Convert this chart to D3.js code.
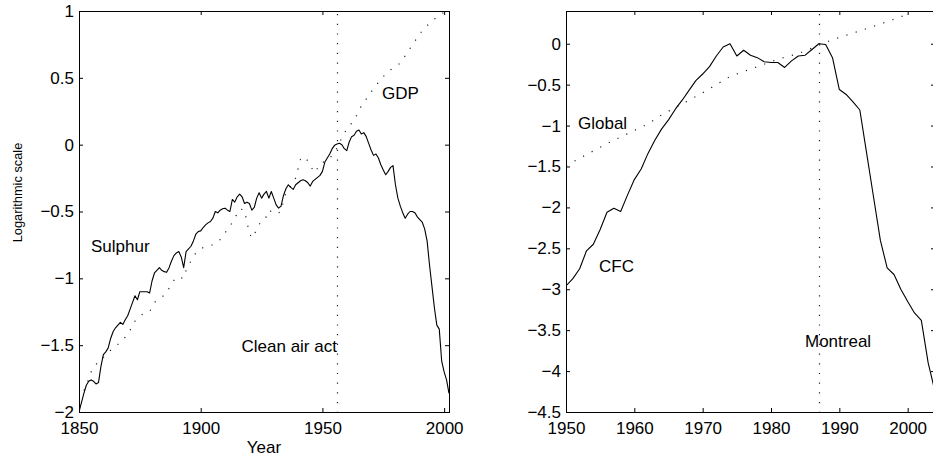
<!DOCTYPE html>
<html>
<head>
<meta charset="utf-8">
<script src="https://cdn.jsdelivr.net/npm/d3@7"></script>
<style>
  html, body { margin: 0; padding: 0; background: #fff; }
  svg { display: block; }
  text { font-family: "Liberation Sans", Arial, Helvetica, sans-serif; fill: #000; }
</style>
</head>
<body>
<svg id="chart" width="933" height="458"></svg>
<script>
// ---------- data ----------
const sulphurYears = d3.range(1850, 2003);
const sulphurValues = [
  -2.00,-1.93,-1.86,-1.80,-1.77,-1.76,-1.77,-1.79,-1.78,-1.66,
  -1.57,-1.55,-1.52,-1.45,-1.40,-1.37,-1.35,-1.33,-1.345,-1.31,
  -1.28,-1.23,-1.18,-1.13,-1.16,-1.10,-1.10,-1.10,-1.10,-1.11,
  -1.02,-0.96,-0.94,-0.92,-0.94,-0.95,-0.955,-0.92,-0.87,-0.83,
  -0.81,-0.80,-0.84,-0.92,-0.80,-0.78,-0.76,-0.72,-0.67,-0.65,
  -0.645,-0.62,-0.60,-0.585,-0.575,-0.55,-0.50,-0.51,-0.49,-0.48,
  -0.475,-0.49,-0.50,-0.41,-0.43,-0.39,-0.37,-0.39,-0.44,-0.43,
  -0.44,-0.49,-0.47,-0.40,-0.36,-0.40,-0.37,-0.35,-0.40,-0.35,
  -0.40,-0.45,-0.475,-0.46,-0.38,-0.33,-0.30,-0.32,-0.335,-0.30,
  -0.285,-0.27,-0.263,-0.27,-0.285,-0.31,-0.275,-0.26,-0.245,-0.23,
  -0.20,-0.13,-0.10,-0.07,-0.03,-0.005,0.005,0.01,0.00,-0.03,
  -0.045,0.02,0.06,0.07,0.10,0.11,0.08,0.09,0.06,0.01,
  -0.04,-0.08,-0.07,-0.10,-0.15,-0.19,-0.225,-0.20,-0.17,-0.157,
  -0.30,-0.40,-0.46,-0.51,-0.55,-0.52,-0.50,-0.50,-0.51,-0.54,
  -0.56,-0.58,-0.63,-0.72,-0.90,-1.06,-1.22,-1.35,-1.38,-1.62,
  -1.70,-1.76,-1.86
];

const gdpYears = [1850,1851,1853,1855,1856,1859,1864,1867,1870,1873,1876,1879,1881,1884,1886,1888,1890,1893,1894,1896,1898,1901,1904,1906,1908,1910,1912,1914,1916,1918,1919,1920,1921,1922,1924,1925,1927,1928,1931,1933,1934,1935,1937,1939,1940,1941,1943,1945,1947,1949,1952,1955,1958,1960,1963,1966,1971,1975,1978,1982,1986,1990,1993,1996,1999,2001];
const gdpValues = [-1.90,-1.88,-1.80,-1.70,-1.66,-1.61,-1.52,-1.48,-1.42,-1.32,-1.27,-1.25,-1.18,-1.14,-1.11,-1.04,-0.99,-1.00,-0.94,-0.87,-0.81,-0.77,-0.755,-0.74,-0.71,-0.66,-0.61,-0.55,-0.48,-0.49,-0.58,-0.66,-0.70,-0.67,-0.60,-0.56,-0.54,-0.49,-0.52,-0.50,-0.42,-0.36,-0.31,-0.25,-0.18,-0.11,-0.09,-0.16,-0.21,-0.14,-0.12,-0.06,0.05,0.12,0.18,0.29,0.42,0.51,0.56,0.61,0.72,0.83,0.89,0.94,0.98,1.00];

const cfcYears = d3.range(1950, 2005);
const cfcValues = [
  -2.96,-2.87,-2.75,-2.53,-2.45,-2.27,-2.06,-2.01,-2.05,-1.85,
  -1.66,-1.53,-1.34,-1.18,-1.04,-0.93,-0.80,-0.69,-0.57,-0.45,
  -0.37,-0.28,-0.15,-0.04,0.00,-0.15,-0.08,-0.14,-0.17,-0.22,
  -0.23,-0.23,-0.29,-0.21,-0.15,-0.14,-0.07,0.00,-0.01,-0.17,
  -0.56,-0.62,-0.71,-0.81,-1.34,-1.87,-2.40,-2.74,-2.82,-3.00,
  -3.15,-3.29,-3.38,-3.90,-4.25
];

const globalYears = [1950,1956,1962,1964,1970,1974,1977,1981,1984,1987,1989,1992,1996,2000];
const globalValues = [-1.49,-1.22,-0.98,-0.87,-0.60,-0.40,-0.31,-0.19,-0.12,-0.02,0.05,0.13,0.24,0.36];

const leftXTicks = [1850, 1900, 1950, 2000];
const leftYTicks = [-2, -1.5, -1, -0.5, 0, 0.5, 1];
const rightXTicks = [1950, 1960, 1970, 1980, 1990, 2000];
const rightYTicks = [-4.5, -4, -3.5, -3, -2.5, -2, -1.5, -1, -0.5, 0];

const cleanAirActYear = 1956;
const montrealYear = 1987;

// ---------- drawing ----------
const svg = d3.select("#chart");
const FONT = 17;
const fmt = v => String(v).replace("-", "\u2212");
const dotDash = "1.2 8.5";

function panel(opts) {
  const { xDomain, yDomain, xRange, yRange, xTicks, yTicks, id } = opts;
  const x = d3.scaleLinear().domain(xDomain).range(xRange);
  const y = d3.scaleLinear().domain(yDomain).range(yRange);
  const g = svg.append("g");

  svg.append("defs").append("clipPath").attr("id", id)
    .append("rect")
    .attr("x", xRange[0]).attr("y", yRange[1])
    .attr("width", xRange[1] - xRange[0]).attr("height", yRange[0] - yRange[1]);

  const plot = g.append("g").attr("clip-path", `url(#${id})`);

  // axes
  const bottom = g.append("g").attr("transform", `translate(0,${yRange[0]})`)
    .call(d3.axisBottom(x).tickValues(xTicks).tickSizeInner(-4).tickSizeOuter(0).tickPadding(10).tickFormat(fmt));
  const top = g.append("g").attr("transform", `translate(0,${yRange[1]})`)
    .call(d3.axisTop(x).tickValues(xTicks).tickSizeInner(-4).tickSizeOuter(0).tickFormat(""));
  const left = g.append("g").attr("transform", `translate(${xRange[0]},0)`)
    .call(d3.axisLeft(y).tickValues(yTicks).tickSizeInner(-4).tickSizeOuter(0).tickPadding(5).tickFormat(fmt));
  const right = g.append("g").attr("transform", `translate(${xRange[1]},0)`)
    .call(d3.axisRight(y).tickValues(yTicks).tickSizeInner(-4).tickSizeOuter(0).tickFormat(""));
  [bottom, top, left, right].forEach(a => {
    a.select(".domain").remove();
    a.selectAll("line").attr("stroke", "#000").attr("stroke-width", 1);
    a.selectAll("text").attr("font-size", FONT).attr("font-family", "Liberation Sans, Arial, sans-serif").attr("fill", "#000");
  });

  // box
  g.append("rect")
    .attr("x", xRange[0] + 0.5).attr("y", yRange[1] + 0.5)
    .attr("width", xRange[1] - xRange[0]).attr("height", yRange[0] - yRange[1])
    .attr("fill", "none").attr("stroke", "#000").attr("stroke-width", 1);

  return { x, y, g, plot };
}

// Left panel
const L = panel({
  id: "clipL",
  xDomain: [1850, 2002], yDomain: [-2, 1],
  xRange: [79, 449], yRange: [412, 11],
  xTicks: leftXTicks, yTicks: leftYTicks
});

L.plot.append("line")
  .attr("x1", Math.round(L.x(cleanAirActYear)) + 0.5).attr("x2", Math.round(L.x(cleanAirActYear)) + 0.5)
  .attr("y1", L.y(1) + 3).attr("y2", L.y(-2))
  .attr("stroke", "#222").attr("stroke-width", 1.2).attr("stroke-dasharray", dotDash);

L.plot.append("path")
  .datum(gdpYears.map((yr, i) => [yr, gdpValues[i]]))
  .attr("fill", "none").attr("stroke", "#222").attr("stroke-width", 1.2)
  .attr("stroke-dasharray", dotDash)
  .attr("d", d3.line().x(d => L.x(d[0])).y(d => L.y(d[1])));

L.plot.append("path")
  .datum(sulphurYears.map((yr, i) => [yr, sulphurValues[i]]))
  .attr("fill", "none").attr("stroke", "#000").attr("stroke-width", 1.1)
  .attr("stroke-linejoin", "round")
  .attr("d", d3.line().x(d => L.x(d[0])).y(d => L.y(d[1])));

L.g.append("text").attr("x", 91).attr("y", 251.5).attr("font-size", FONT).text("Sulphur");
L.g.append("text").attr("x", 382).attr("y", 98.5).attr("font-size", FONT).text("GDP");
L.g.append("text").attr("x", 241.5).attr("y", 351.5).attr("font-size", FONT).text("Clean air act");

svg.append("text").attr("x", 264).attr("y", 453).attr("text-anchor", "middle")
  .attr("font-size", FONT).text("Year");
svg.append("text")
  .attr("transform", "translate(21.5,192.5) rotate(-90)")
  .attr("text-anchor", "middle").attr("font-size", 12.8).text("Logarithmic scale");

// Right panel
const R = panel({
  id: "clipR",
  xDomain: [1950, 2004], yDomain: [-4.5, 0.4],
  xRange: [566, 935], yRange: [412, 11],
  xTicks: rightXTicks, yTicks: rightYTicks
});

R.plot.append("line")
  .attr("x1", Math.round(R.x(montrealYear)) + 0.5).attr("x2", Math.round(R.x(montrealYear)) + 0.5)
  .attr("y1", R.y(0.4) + 3).attr("y2", R.y(-4.5))
  .attr("stroke", "#222").attr("stroke-width", 1.2).attr("stroke-dasharray", dotDash);

R.plot.append("path")
  .datum(globalYears.map((yr, i) => [yr, globalValues[i]]))
  .attr("fill", "none").attr("stroke", "#222").attr("stroke-width", 1.2)
  .attr("stroke-dasharray", dotDash)
  .attr("d", d3.line().x(d => R.x(d[0])).y(d => R.y(d[1])));

R.plot.append("path")
  .datum(cfcYears.map((yr, i) => [yr, cfcValues[i]]))
  .attr("fill", "none").attr("stroke", "#000").attr("stroke-width", 1.1)
  .attr("stroke-linejoin", "round")
  .attr("d", d3.line().x(d => R.x(d[0])).y(d => R.y(d[1])));

R.g.append("text").attr("x", 578).attr("y", 129.3).attr("font-size", FONT).text("Global");
R.g.append("text").attr("x", 599).attr("y", 271.5).attr("font-size", FONT).text("CFC");
R.g.append("text").attr("x", 805).attr("y", 346.7).attr("font-size", FONT).text("Montreal");
</script>
</body>
</html>
